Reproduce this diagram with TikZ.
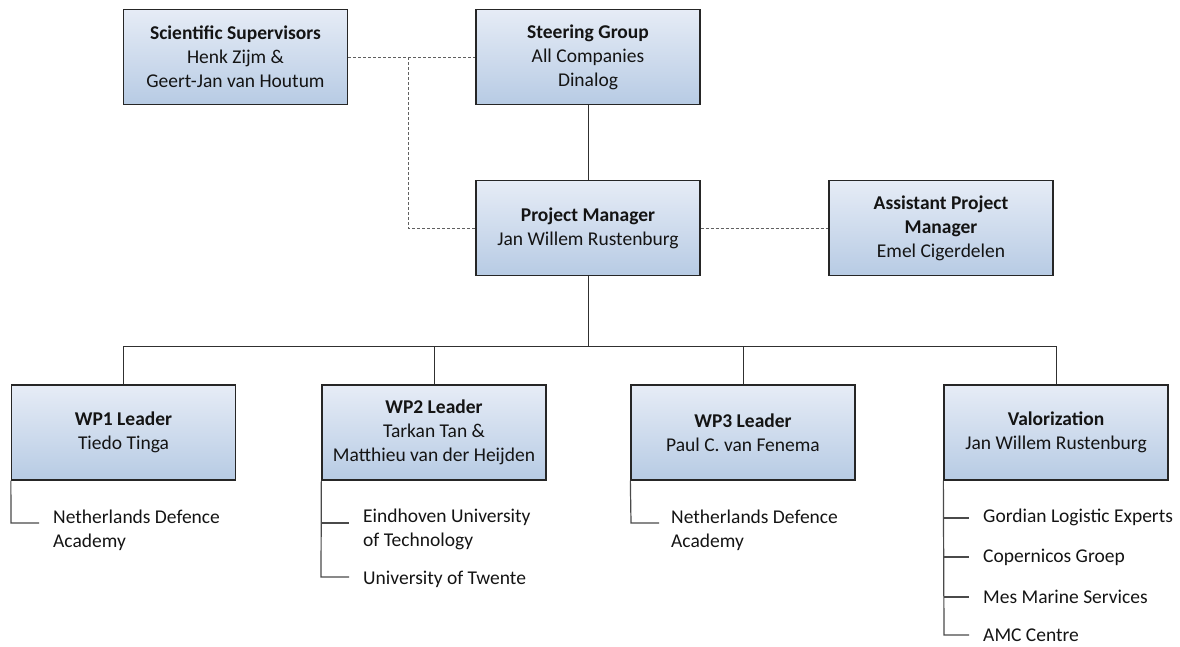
\documentclass[tikz,border=0pt]{standalone}
\usepackage{fontspec}
\setmainfont{Carlito}
\definecolor{boxtop}{HTML}{E6ECF6}
\definecolor{boxbot}{HTML}{B7CBE4}
\definecolor{boxline}{HTML}{262626}
\definecolor{conline}{HTML}{303030}
\definecolor{listline}{HTML}{4A4A4A}
\definecolor{dashline}{HTML}{606060}
\definecolor{txt}{HTML}{141414}
\begin{document}
\begin{tikzpicture}[x=1pt,y=-1pt,
  orgbox/.style={draw=boxline, line width=1.3pt, top color=boxtop, bottom color=boxbot,
    minimum width=224pt, minimum height=95pt, align=center, inner sep=2pt,
    font=\fontsize{19.5}{24}\selectfont, text=txt},
  solidcon/.style={draw=conline, line width=1pt},
  dashcon/.style={draw=dashline, line width=1pt, dash pattern=on 3pt off 2pt},
  listcon/.style={draw=listline, line width=1.2pt},
  item/.style={anchor=west, align=left, inner sep=0pt, font=\fontsize{19.5}{24}\selectfont, text=txt}
]
\useasboundingbox (0,0) rectangle (1180,646);

\node[orgbox] (sci)   at (235.5,57) {\textbf{Scientific Supervisors}\\Henk Zijm \&\\Geert-Jan van Houtum};
\node[orgbox] (steer) at (588,57)   {\textbf{Steering Group}\\All Companies\\Dinalog};
\node[orgbox] (pm)    at (588,228)  {\textbf{Project Manager}\\Jan Willem Rustenburg};
\node[orgbox] (apm)   at (941,228)  {\textbf{Assistant Project}\\\textbf{Manager}\\Emel Cigerdelen};

\node[orgbox] (wp1) at (123.5,432.5) {\textbf{WP1 Leader}\\Tiedo Tinga};
\node[orgbox] (wp2) at (434,432.5)   {\textbf{WP2 Leader}\\Tarkan Tan \&\\Matthieu van der Heijden};
\node[orgbox] (wp3) at (743,432.5)   {\textbf{WP3 Leader}\\Paul C. van Fenema};
\node[orgbox] (val) at (1056,432.5)  {\textbf{Valorization}\\Jan Willem Rustenburg};

% dashed advisory links
\coordinate (dj1) at (408,57);
\coordinate (dj2) at (408,228);
\draw[dashcon] (sci.east) -- (steer.west);
\draw[dashcon] (dj1) -- (dj2) -- (pm.west);
\draw[dashcon] (pm.east) -- (apm.west);

% solid hierarchy
\coordinate (bus) at (588,346);
\draw[solidcon] (steer.south) -- (pm.north);
\draw[solidcon] (pm.south) -- (bus);
\draw[solidcon] (wp1.north) -- (wp1.north |- bus) -- (val.north |- bus) -- (val.north);
\draw[solidcon] (wp2.north) -- (wp2.north |- bus);
\draw[solidcon] (wp3.north) -- (wp3.north |- bus);

% WP1 list
\coordinate (a1) at (11,523);
\coordinate (a1e) at (39,523);
\draw[listcon] (wp1.south west) -- (a1) -- (a1e);
\node[item] (t11) at (53,530) {Netherlands Defence\\Academy};

% WP2 list
\coordinate (b1) at (321,523);
\coordinate (b1e) at (349,523);
\coordinate (b2) at (321,577);
\coordinate (b2e) at (349,577);
\draw[listcon] (wp2.south west) -- (b2) -- (b2e);
\draw[listcon] (b1) -- (b1e);
\node[item] (t21) at (363,529) {Eindhoven University\\of Technology};
\node[item] (t22) at (363,579) {University of Twente};

% WP3 list
\coordinate (c1) at (631,523);
\coordinate (c1e) at (659,523);
\draw[listcon] (wp3.south west) -- (c1) -- (c1e);
\node[item] (t31) at (671,530) {Netherlands Defence\\Academy};

% Valorization list
\coordinate (d1) at (944,518);
\coordinate (d1e) at (969,518);
\coordinate (d2) at (944,557);
\coordinate (d2e) at (969,557);
\coordinate (d3) at (944,597);
\coordinate (d3e) at (969,597);
\coordinate (d4) at (944,635);
\coordinate (d4e) at (969,635);
\draw[listcon] (val.south west) -- (d4) -- (d4e);
\draw[listcon] (d1) -- (d1e);
\draw[listcon] (d2) -- (d2e);
\draw[listcon] (d3) -- (d3e);
\node[item] (t41) at (983,517) {Gordian Logistic Experts};
\node[item] (t42) at (983,557) {Copernicos Groep};
\node[item] (t43) at (983,597) {Mes Marine Services};
\node[item] (t44) at (983,635) {AMC Centre};
\end{tikzpicture}
\end{document}
